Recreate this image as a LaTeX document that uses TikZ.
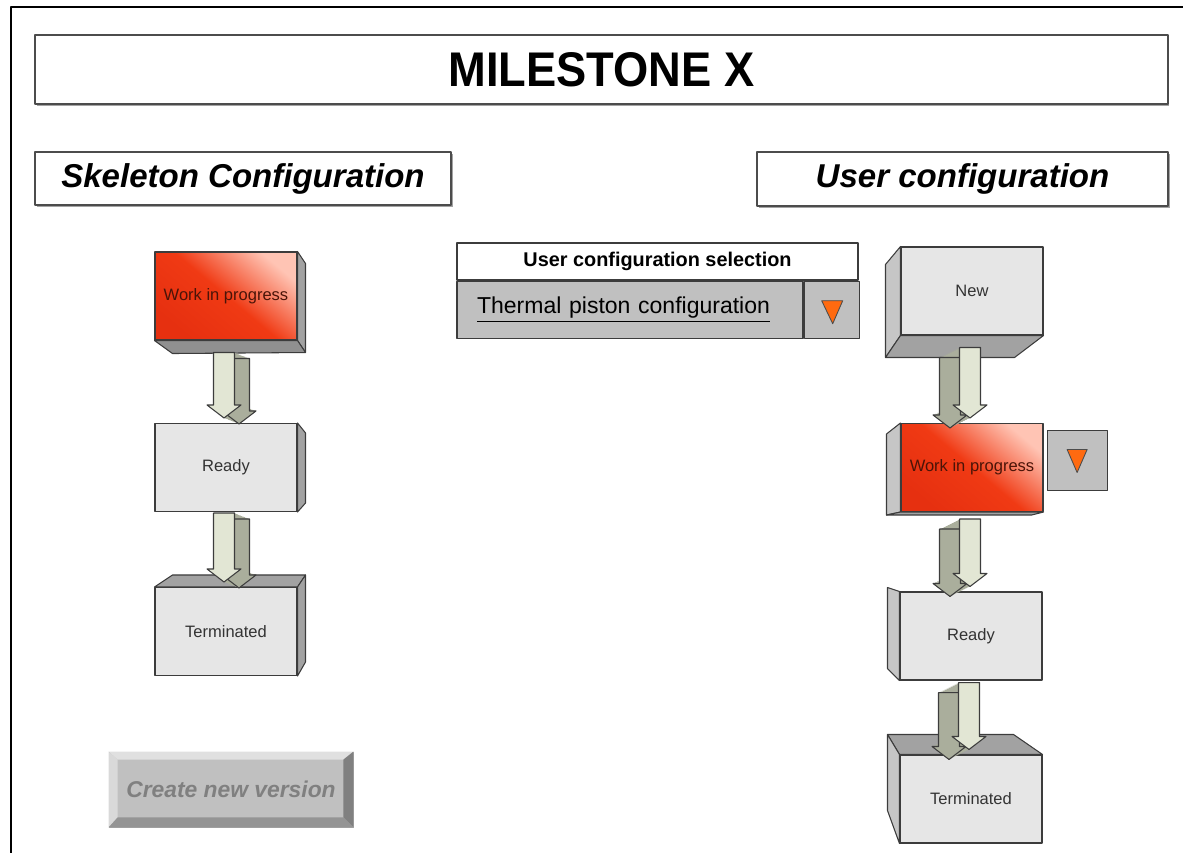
\documentclass[tikz,border=0pt]{standalone}
\usepackage{fontspec}
\setmainfont{Liberation Sans}
\usetikzlibrary{positioning, calc, shadows}

\definecolor{edge}{HTML}{3C3C3C}
\definecolor{boxFace}{HTML}{E6E6E6}
\definecolor{sideLight}{HTML}{C6C6C6}
\definecolor{sideDark}{HTML}{A2A2A2}
\definecolor{sideDarker}{HTML}{909090}
\definecolor{wipRed}{HTML}{F03A14}
\definecolor{wipDeep}{HTML}{E63010}
\definecolor{wipLight}{HTML}{FFC4B4}
\definecolor{wipText}{HTML}{4A1408}
\definecolor{arrFace}{HTML}{E2E6D4}
\definecolor{arrSide}{HTML}{AAAE9C}
\definecolor{btnGray}{HTML}{C0C0C0}
\definecolor{triOrange}{HTML}{FF6A10}

\newcommand\fsz[1]{\fontsize{#1}{#1}\selectfont}
\def\arrS{10.5}  % shaft half width (px)
\def\arrH{17}    % head half width
\def\arrL{13}    % head length

% 3D block arrow from one cube to the next
\newcommand\blockarrow[5]{% from, to, drop below source, side dx, side dy
  \coordinate (aT) at ($(#1.south)+(-2,#3)$);
  \coordinate (aE) at ($(aT |- #2.north)+(0,-5)$);
  \foreach \t in {0.1,0.2,...,1.0}{
    \pgfmathsetmacro\sx{\t*#4}
    \pgfmathsetmacro\sy{\t*#5}
    \fill[arrSide] ($(aT)+({-\arrS+\sx},\sy)$) -- ($(aE)+({-\arrS+\sx},{-\arrL+\sy})$)
      -- ($(aE)+({-\arrH+\sx},{-\arrL+\sy})$) -- ($(aE)+(\sx,\sy)$)
      -- ($(aE)+({\arrH+\sx},{-\arrL+\sy})$) -- ($(aE)+({\arrS+\sx},{-\arrL+\sy})$)
      -- ($(aT)+({\arrS+\sx},\sy)$) -- cycle;
  }
  \foreach \ox/\oy/\fc in {#4/#5/arrSide, 0/0/arrFace}
    \filldraw[fill=\fc, draw=edge, line width=0.6pt]
      ($(aT)+({-\arrS+\ox},\oy)$) -- ($(aE)+({-\arrS+\ox},{-\arrL+\oy})$)
      -- ($(aE)+({-\arrH+\ox},{-\arrL+\oy})$) -- ($(aE)+(\ox,\oy)$)
      -- ($(aE)+({\arrH+\ox},{-\arrL+\oy})$) -- ($(aE)+({\arrS+\ox},{-\arrL+\oy})$)
      -- ($(aT)+({\arrS+\ox},\oy)$) -- cycle;
}

\begin{document}
\begin{tikzpicture}[
    x=0.02cm, y=-0.02cm,
    line join=round,
    frame box/.style={draw=black!70, fill=white, line width=0.7pt, inner sep=0pt,
                      drop shadow={shadow xshift=0.9pt, shadow yshift=-0.9pt, fill=black!45, opacity=0.8}},
    cube front/.style={draw=edge, fill=boxFace, line width=0.6pt,
                       minimum width=2.84cm, minimum height=1.76cm, inner sep=0pt,
                       font=\fsz{9.4}, text=black!80},
    cube wip/.style={cube front, top color=wipLight, bottom color=wipDeep,
                     middle color=wipRed, shading angle=-40, text=wipText},
    face light/.style={fill=sideLight, draw=edge, line width=0.6pt},
    face dark/.style={fill=sideDark, draw=edge, line width=0.6pt},
    face darker/.style={fill=sideDarker, draw=edge, line width=0.6pt},
    drop btn/.style={draw=edge, fill=btnGray, line width=0.7pt, inner sep=0pt},
    drop tri/.style={fill=triOrange, draw=black!70, line width=0.5pt},
]

\useasboundingbox (0,0) rectangle (1183,852);

% page frame
\draw[line width=1.7pt] (11,870) -- (11,7) -- (1200,7);

% =====================================================================
%  Headings
% =====================================================================
\node[frame box, minimum width=22.66cm, minimum height=1.38cm] (title) at (601.5,69.5)
    {\fsz{27.7}\bfseries\scalebox{0.93}[1]{MILESTONE X}};

\node[frame box, minimum width=8.32cm, minimum height=1.06cm,
      font=\fsz{18.8}\bfseries\itshape] (skHead) at (243,178.5) {Skeleton Configuration};

\node[frame box, minimum width=8.22cm, minimum height=1.08cm,
      font=\fsz{18.8}\bfseries\itshape] (usHead) at (962.5,179) {User configuration};

% =====================================================================
%  Selection table
% =====================================================================
\node[draw=edge, fill=white, line width=0.7pt, inner sep=0pt,
      minimum width=8.02cm, minimum height=0.74cm,
      font=\fsz{11.3}\bfseries] (selHead) at (657.5,261.5) {User configuration selection};
\node[draw=edge, fill=btnGray, line width=0.7pt, anchor=north west,
      minimum height=1.14cm, inner xsep=0.4cm, text width=6.12cm, align=left,
      font=\fsz{13.1}] (selText) at (selHead.south west)
    {\underline{Thermal piston configuration}};
\node[drop btn, minimum width=1.1cm, minimum height=1.14cm, anchor=west]
    (selDrop) at (selText.east) {};
\filldraw[drop tri] ($(selDrop.center)+(-10,-9)$) -- ($(selDrop.center)+(11,-9)$)
    -- ($(selDrop.center)+(1,14)$) -- cycle;

% =====================================================================
%  LEFT — skeleton cubes
% =====================================================================
\node[cube wip] (skWip) at (226,296) {Work in progress};
\path[face dark] (skWip.north east) -- ++(8,12) -- ($(skWip.south east)+(8,12)$)
    -- (skWip.south east) -- cycle;
\path[face darker] (skWip.south west) -- (skWip.south east) -- ++(8,12)
    -- ($(skWip.south west)+(18,13)$) -- cycle;

\node[cube front] (skReady) at (226,467.5) {Ready};
\path[face dark] (skReady.north east) -- ++(8,10) -- ($(skReady.south east)+(8,-9)$)
    -- (skReady.south east) -- cycle;

\node[cube front] (skTerm) at (226,631.5) {Terminated};
\path[face dark] (skTerm.north west) -- ++(18,-12) -- ($(skTerm.north east)+(8,-12)$)
    -- (skTerm.north east) -- cycle;
\path[face dark] (skTerm.north east) -- ++(8,-12) -- ($(skTerm.south east)+(8,-14)$)
    -- (skTerm.south east) -- cycle;

\blockarrow{skWip}{skReady}{12}{15}{6}
\blockarrow{skReady}{skTerm}{1}{15}{6}

% --- button ---
\node[fill=btnGray, draw=black!35, line width=0.5pt, inner sep=0pt,
      minimum width=4.88cm, minimum height=1.5cm,
      font=\fsz{13}\bfseries\itshape, text=black!50] (newVer) at (231,789.5) {Create new version};
\fill[black!12] (newVer.north west) -- (newVer.north east) -- ++(-10,8)
    -- ($(newVer.north west)+(9,8)$) -- cycle;
\fill[black!15] (newVer.north west) -- ($(newVer.north west)+(9,8)$)
    -- ($(newVer.south west)+(9,-10)$) -- (newVer.south west) -- cycle;
\fill[black!50] (newVer.north east) -- (newVer.south east) -- ++(-10,-10)
    -- ($(newVer.north east)+(-10,8)$) -- cycle;
\fill[black!42] (newVer.south west) -- (newVer.south east) -- ++(-10,-10)
    -- ($(newVer.south west)+(9,-10)$) -- cycle;

% =====================================================================
%  RIGHT — user cubes
% =====================================================================
\node[cube front] (usNew) at (972,291) {New};
\path[face light] (usNew.north west) -- ++(-15,18) -- ($(usNew.south west)+(-15,22)$)
    -- (usNew.south west) -- cycle;
\path[face dark] (usNew.south west) -- (usNew.south east) -- ++(-29,22)
    -- ($(usNew.south west)+(-15,22)$) -- cycle;

\node[cube wip] (usWip) at (972,467.5) {Work in progress};
\path[face light] (usWip.north west) -- ++(-14,11) -- ($(usWip.south west)+(-14,3)$)
    -- (usWip.south west) -- cycle;
\path[face dark] (usWip.south west) -- (usWip.south east) -- ++(-12,3)
    -- ($(usWip.south west)+(-14,3)$) -- cycle;

\node[drop btn, minimum size=1.2cm, right=0.06cm of usWip, yshift=0.14cm] (wipDrop) {};
\filldraw[drop tri] ($(wipDrop.center)+(-10,-11)$) -- ($(wipDrop.center)+(10,-11)$)
    -- ($(wipDrop.center)+(0,12)$) -- cycle;

\node[cube front] (usReady) at (971,636) {Ready};
\path[face light] (usReady.north west) -- ++(-12,-4) -- ($(usReady.south west)+(-12,-12)$)
    -- (usReady.south west) -- cycle;

\node[cube front] (usTerm) at (971,799) {Terminated};
\path[face dark] (usTerm.north west) -- ++(-12,-20) -- ($(usTerm.north east)+(-29,-20)$)
    -- (usTerm.north east) -- cycle;
\path[face light] (usTerm.north west) -- ++(-12,-20) -- ($(usTerm.south west)+(-12,-33)$)
    -- (usTerm.south west) -- cycle;

\blockarrow{usNew}{usWip}{12}{-20}{10}
\blockarrow{usWip}{usReady}{7}{-20}{10}
\blockarrow{usReady}{usTerm}{2}{-20}{10}

\end{tikzpicture}
\end{document}
